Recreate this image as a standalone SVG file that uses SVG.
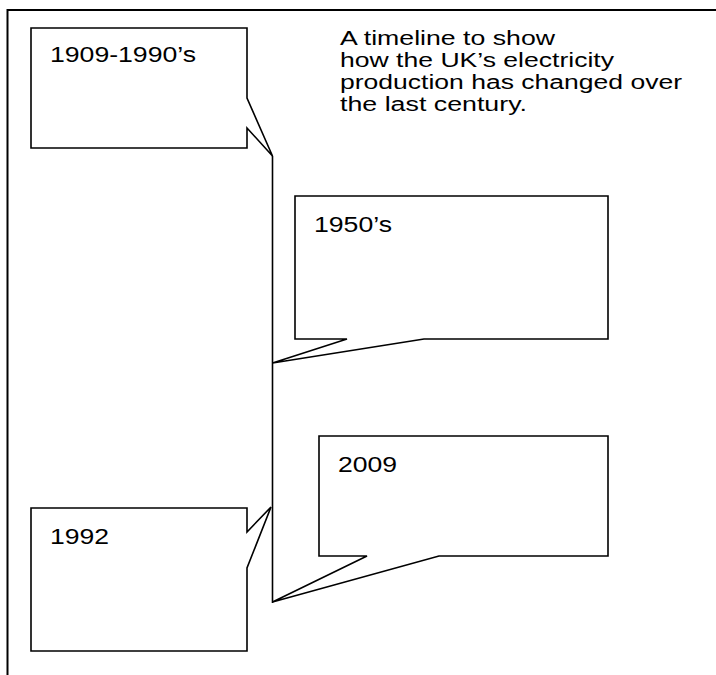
<svg xmlns="http://www.w3.org/2000/svg" width="716" height="675" viewBox="0 0 716 675">
  <style>
    .shape { fill: #ffffff; stroke: #000000; stroke-width: 1.6; stroke-linejoin: miter; }
    .line { fill: none; stroke: #000000; stroke-width: 1.6; }
    .frame { fill: none; stroke: #000000; stroke-width: 2; }
    text { font-family: "Liberation Sans", Arial, sans-serif; font-size: 22.5px; fill: #000000; }
    .title { font-size: 19.6px; }
  </style>
  <rect width="716" height="675" fill="#ffffff"/>
  <path class="frame" d="M7.5,676 V10 H717"/>
  <g id="connectors">
    <path class="line" d="M272.5,156 V603"/>
  </g>
  <g id="title">
    <text class="title" x="340" y="45" textLength="215" lengthAdjust="spacingAndGlyphs">A timeline to show</text>
    <text class="title" x="340" y="67" textLength="274" lengthAdjust="spacingAndGlyphs">how the UK’s electricity</text>
    <text class="title" x="340" y="89" textLength="342" lengthAdjust="spacingAndGlyphs">production has changed over</text>
    <text class="title" x="340" y="111" textLength="187" lengthAdjust="spacingAndGlyphs">the last century.</text>
  </g>
  <g id="node-1909">
    <path class="shape" d="M31,28 H247 V98 L272.5,156 L247,128 V148 H31 Z"/>
    <text x="50" y="62" textLength="146" lengthAdjust="spacingAndGlyphs">1909-1990’s</text>
  </g>
  <g id="node-1950">
    <path class="shape" d="M295,196 H608 V339 H424 L272.5,363 L347,339 H295 Z"/>
    <text x="314" y="232" textLength="78" lengthAdjust="spacingAndGlyphs">1950’s</text>
  </g>
  <g id="node-1992">
    <path class="shape" d="M31,508 H247 V532 L271,507 L247,568 V651 H31 Z"/>
    <text x="50" y="544" textLength="59" lengthAdjust="spacingAndGlyphs">1992</text>
  </g>
  <g id="node-2009">
    <path class="shape" d="M319,436 H608 V556 H439 L272.5,602 L367,556 H319 Z"/>
    <text x="338" y="472" textLength="59" lengthAdjust="spacingAndGlyphs">2009</text>
  </g>
</svg>
